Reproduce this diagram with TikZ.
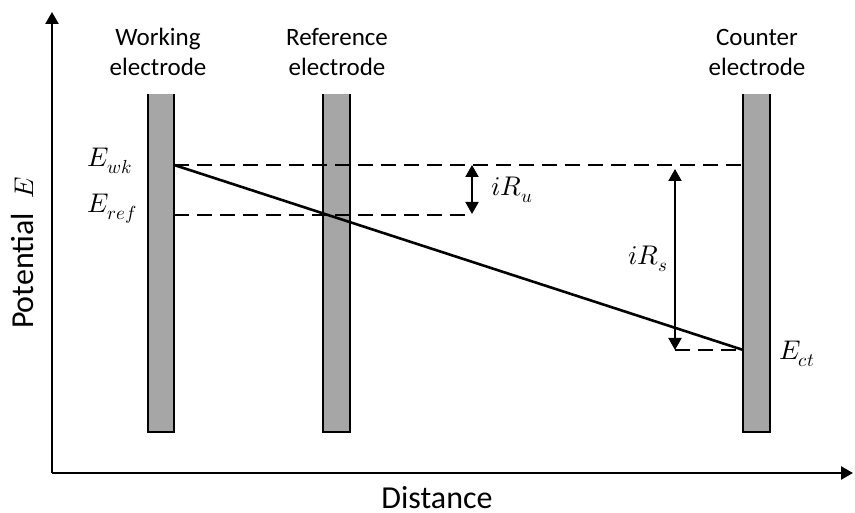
\documentclass[tikz,border=0pt]{standalone}
\usepackage{fontspec}
\usepackage{unicode-math}
\setmainfont{Carlito}
\setmathfont{Latin Modern Math}
\usetikzlibrary{arrows.meta}
\definecolor{elgray}{HTML}{A6A6A6}

\begin{document}
\begin{tikzpicture}[
    x=1pt, y=-1pt,
    >={Triangle[width=13pt,length=12pt]},
    every node/.style={font=\fontsize{25}{30}\selectfont},
    electrode/.style={fill=elgray, minimum width=26pt, minimum height=338pt, inner sep=0pt},
    level/.style={line width=1.8pt, dash pattern=on 15pt off 8pt},
    mathlbl/.style={font=\fontsize{27}{30}\selectfont},
    axislbl/.style={font=\fontsize{32}{36}\selectfont}
]
\useasboundingbox (0,0) rectangle (855,513);

\foreach \n/\x in {we/161,re/336.5,ce/756.5}{
  \node[electrode] (\n) at (\x,263) {};
  \draw[line width=2pt] (\n.north west) -- (\n.south west) -- (\n.south east) -- (\n.north east);
}

\node[align=center] (welbl) at (158,52) {Working\\electrode};
\node[align=center] (relbl) at (337,52) {Reference\\electrode};
\node[align=center] (celbl) at (757,52) {Counter\\electrode};

\coordinate (O) at (52,473);
\coordinate (ytip) at (52,12);
\coordinate (xtip) at (853,473);
\draw[->,line width=2.5pt] (O) -- (ytip);
\draw[->,line width=2.5pt] (O) -- (xtip);
\node[axislbl,rotate=90] (ylbl) at (23,253) {Potential~~{\fontsize{27}{30}\selectfont$E$}};
\node[axislbl,inner sep=0pt] (xlbl) at (437,498) {Distance};

\coordinate (Ewk) at (we.east |- 0,165);
\coordinate (Eref) at (we.east |- 0,215);
\coordinate (Ect) at (ce.west |- 0,350);
\coordinate (uend) at (470,215);
\coordinate (sstart) at (675,350);

\draw[level] (Ewk) -- (ce.west |- Ewk);
\draw[level] (Eref) -- (uend);
\draw[level] (sstart) -- (Ect);
\draw[line width=2.6pt] (Ewk) -- (Ect);

\coordinate (ua) at (472,165);
\coordinate (ub) at (472,214);
\coordinate (sa) at (675,169);
\coordinate (sb) at (675,350);
\draw[<->,line width=2pt] (ua) -- (ub);
\draw[<->,line width=2pt] (sa) -- (sb);

\node[mathlbl] (wklbl) at (110,161) {$E_{wk}$};
\node[mathlbl] (reflbl) at (112,209) {$E_{ref}$};
\node[mathlbl] (ctlbl) at (797,354) {$E_{ct}$};
\node[mathlbl] (iru) at (512,190) {$iR_u$};
\node[mathlbl] (irs) at (648,259) {$iR_s$};
\end{tikzpicture}
\end{document}
